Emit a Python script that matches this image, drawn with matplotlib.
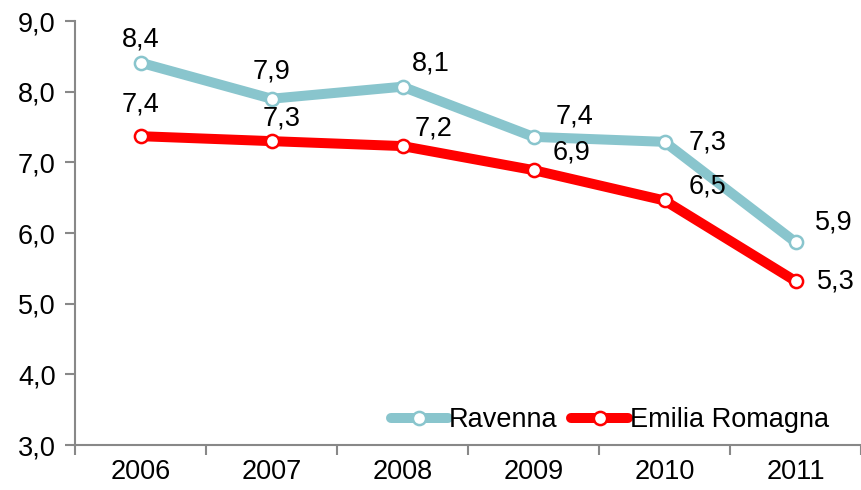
import matplotlib
matplotlib.use('Agg')
import matplotlib.pyplot as plt

# data
years = ['2006', '2007', '2008', '2009', '2010', '2011']
ravenna = [8.41, 7.90, 8.07, 7.36, 7.29, 5.87]
emilia = [7.37, 7.30, 7.23, 6.89, 6.46, 5.32]
y_ticks = [3.0, 4.0, 5.0, 6.0, 7.0, 8.0, 9.0]

# label offsets in pixels (dx, dy), one per point
rav_off = [(0, 23), (0, 27), (28, 23), (41, 20), (43, -1), (38, 20)]
emi_off = [(0, 32), (10, 23), (31, 18), (38, 18), (43, 14), (40, 0)]

plt.rcParams['font.family'] = ['Liberation Sans', 'DejaVu Sans']
FS = 19.5

fig = plt.figure(figsize=(8.61, 4.90), dpi=100)
ax = fig.add_axes([75/861, 1-445/490, 1-75/861, (445-21)/490])

x = list(range(len(years)))

def draw(vals, color, name, offs):
	ax.plot(x, vals, color=color, lw=7.2, marker='o', ms=9.5, mfc='white',
			mec=color, mew=1.8, label=name, solid_capstyle='round', zorder=3)
	for xi, v, (dx, dy) in zip(x, vals, offs):
		ax.annotate(f'{v:.1f}'.replace('.', ','), (xi, v),
					xytext=(dx*0.72, dy*0.72), textcoords='offset points',
					ha='center', va='center', fontsize=FS)

draw(ravenna, '#89C5CD', 'Ravenna', rav_off)
draw(emilia, '#FF0000', 'Emilia Romagna', emi_off)

ax.set_xlim(-0.49, 5.46)
ax.set_ylim(3.0, 9.0)
ax.set_yticks(y_ticks)
ax.set_yticklabels([f'{t:.1f}'.replace('.', ',') for t in y_ticks], fontsize=FS)
ax.set_xticks(x)
ax.set_xticklabels(years, fontsize=FS)
ax.tick_params(axis='x', length=0, pad=10)
ax.set_xticks([i + 0.5 for i in range(-1, len(years))], minor=True)
ax.tick_params(axis='x', which='minor', length=7, color='#888888', width=1.5)
ax.tick_params(axis='y', length=7, color='#888888', width=1.5, pad=7)

for s in ['top', 'right']:
	ax.spines[s].set_visible(False)
for s in ['left', 'bottom']:
	ax.spines[s].set_color('#888888')
	ax.spines[s].set_linewidth(1.5)

ax.legend(loc='lower right', ncol=2, frameon=False, fontsize=FS,
		  handlelength=2.1, handletextpad=0.05, columnspacing=0.5,
		  bbox_to_anchor=(0.99, -0.03))

fig.savefig('out.png', dpi=100)
